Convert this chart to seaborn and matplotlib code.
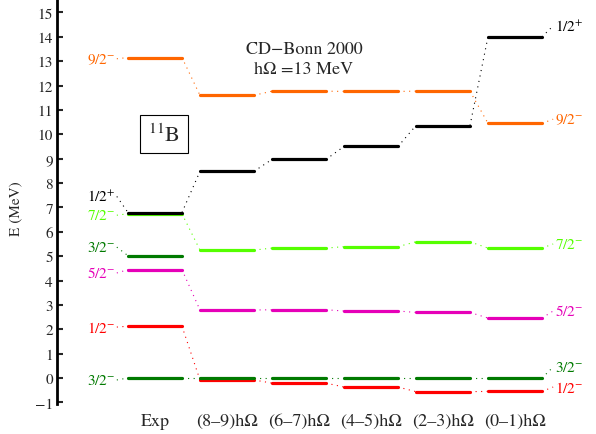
import numpy as np
import pandas as pd
import matplotlib
matplotlib.use('Agg')
import matplotlib.pyplot as plt
import seaborn as sns

sns.set_style('white')
plt.rcParams['font.family'] = ['STIXGeneral', 'DejaVu Serif']
plt.rcParams['mathtext.fontset'] = 'stix'

# columns of the spectrum
columns = ['Exp', '(8\u20139)h\u03a9', '(6\u20137)h\u03a9', '(4\u20135)h\u03a9',
           '(2\u20133)h\u03a9', '(0\u20131)h\u03a9']

# level energies (MeV) per column
e_9_2m = [13.15, 11.60, 11.77, 11.76, 11.77, 10.45]
e_7_2m = [6.74, 5.25, 5.33, 5.39, 5.59, 5.33]
e_1_2p = [6.79, 8.48, 8.97, 9.50, 10.36, 14.00]
e_3_2m_exc = [5.02]            # only in Exp
e_5_2m = [4.445, 2.79, 2.80, 2.75, 2.69, 2.46]
e_1_2m = [2.125, -0.08, -0.21, -0.37, -0.56, -0.55]
e_3_2m = [0.0, 0.0, 0.0, 0.0, 0.0, 0.0]

levels = {'9/2-': e_9_2m, '7/2-': e_7_2m, '3/2- exc': e_3_2m_exc,
          '5/2-': e_5_2m, '1/2-': e_1_2m, '3/2-': e_3_2m, '1/2+': e_1_2p}

colors = {'9/2-': '#ff6600', '7/2-': '#55ff00', '3/2- exc': '#007a00',
          '5/2-': '#e600b8', '1/2-': '#ff0000', '3/2-': '#007a00',
          '1/2+': '#000000'}

labels = {'9/2-': '9/2$^{-}$', '7/2-': '7/2$^{-}$', '3/2- exc': '3/2$^{-}$',
          '5/2-': '5/2$^{-}$', '1/2-': '1/2$^{-}$', '3/2-': '3/2$^{-}$',
          '1/2+': '1/2$^{+}$'}

# where the level names sit (label layout, not data)
left_lab_y = {'9/2-': 13.1, '1/2+': 7.45, '7/2-': 6.68, '3/2- exc': 5.37,
              '5/2-': 4.31, '1/2-': 2.09, '3/2-': -0.08}
right_lab_y = {'1/2+': 14.45, '9/2-': 10.62, '7/2-': 5.5, '5/2-': 2.75,
               '3/2-': 0.45, '1/2-': -0.37}

hw = 0.375  # half width of a level bar

rows = []
for name, en in levels.items():
    for i, e in enumerate(en):
        seg = f'{name}_{i}'
        rows.append((name, seg, i - hw, e))
        rows.append((name, seg, i + hw, e))
df = pd.DataFrame(rows, columns=['state', 'seg', 'x', 'E'])

fig = plt.figure(figsize=(5.96, 4.35), dpi=100)
ax = fig.add_axes([0.0956, 0.0699, 0.9044, 0.930])

dot = (0, (1, 4))

# connectors between columns
for name, en in levels.items():
    for i in range(len(en) - 1):
        ax.plot([i + hw, i + 1 - hw], [en[i], en[i + 1]], color=colors[name],
                lw=0.8, linestyle=dot, zorder=1)

sns.lineplot(data=df, x='x', y='E', hue='state', units='seg', estimator=None,
             sort=False, palette=colors, hue_order=list(levels.keys()),
             linewidth=2.3, legend=False, ax=ax, zorder=2)

# labels on the left (Exp) side
for name, ly in left_lab_y.items():
    e0 = levels[name][0]
    ax.plot([-0.53, -hw], [ly, e0], color=colors[name], lw=0.8,
            linestyle=dot, zorder=1)
    ax.text(-0.55, ly, labels[name], color=colors[name], ha='right',
            va='center', fontsize=11)

# labels on the right side
last = len(columns) - 1
for name, ly in right_lab_y.items():
    e1 = levels[name][last]
    ax.plot([last + hw, last + 0.53], [e1, ly], color=colors[name], lw=0.8,
            linestyle=dot, zorder=1)
    ax.text(last + 0.56, ly, labels[name], color=colors[name], ha='left',
            va='center', fontsize=11)

ax.text(2.07, 13.08, 'CD\u2212Bonn 2000\nh\u03a9 =13 MeV', ha='center',
        va='center', fontsize=13, linespacing=1.3)
ax.text(0.125, 10.0, '$^{11}$B', ha='center', va='center', fontsize=16,
        bbox=dict(boxstyle='square,pad=0.35', fc='white', ec='black', lw=0.8))

ax.set_xlim(-1.361, 6.125)
ax.set_ylim(-1.05, 15.55)
ax.set_xticks(range(len(columns)))
ax.set_xticklabels(columns, fontsize=13)
ax.set_yticks(range(-1, 16))
ax.tick_params(axis='x', length=0, pad=7)
ax.tick_params(axis='y', direction='in', length=4, width=1.5, labelsize=11,
               pad=3, left=True)
for s in ['top', 'right', 'bottom']:
    ax.spines[s].set_visible(False)
ax.spines['left'].set_linewidth(2.0)
ax.spines['left'].set_color('black')
ax.set_xlabel('')
ax.set_ylabel('E (MeV)', fontsize=11)
ax.yaxis.set_label_coords(-0.065, 0.485)
ax.grid(False)

fig.savefig('out.png', dpi=100)
